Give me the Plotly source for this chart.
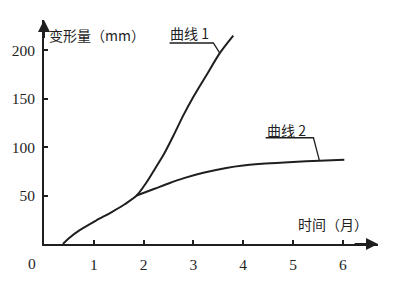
import plotly.graph_objects as go

# ---- data ----
curve1_month = [0.38, 0.5, 0.71, 1.04, 1.36, 1.62, 1.86, 2.05, 2.22, 2.42, 2.6, 2.8, 3.0, 3.27, 3.53, 3.80]
curve1_value = [0, 6, 14, 24, 33, 41, 50, 63, 77, 94, 112, 133, 152, 175, 197, 215]

curve2_month = [1.86, 2.22, 2.5, 2.81, 3.2, 3.66, 4.0, 4.45, 5.0, 5.53, 6.03]
curve2_value = [50, 57, 62.5, 68, 73.5, 78.5, 81, 83, 84.7, 86, 87]

x_ticks = [1, 2, 3, 4, 5, 6]
x_tick_labels = ["1", "2", "3", "4", "5", "6"]
y_ticks = [50, 100, 150, 200]
y_tick_labels = ["50", "100", "150", "200"]

y_title = "变形量（mm）"
x_title = "时间（月）"
curve_names = ["曲线 1", "曲线 2"]
# label text anchors and leader lines (data units)
label_pos = [(2.93, 218), (4.86, 117.5)]
leader1 = [(2.52, 207.5), (3.40, 207.5), (3.53, 197)]
leader2 = [(4.45, 109.7), (5.41, 109.7), (5.53, 86)]

INK = "#1f1f1f"
NUM_FONT = dict(family="Liberation Serif, DejaVu Serif, serif", size=15.5, color=INK)
CJK_FONT = dict(family="Noto Sans CJK SC, sans-serif", size=14, color=INK)

X_MAX = 340 / 50.7
Y_MAX = 234 / 1.012

fig = go.Figure()
fig.add_trace(go.Scatter(x=curve1_month, y=curve1_value, mode="lines",
                         line=dict(color=INK, width=2, shape="spline", smoothing=0.8),
                         hoverinfo="skip", showlegend=False))
fig.add_trace(go.Scatter(x=curve2_month, y=curve2_value, mode="lines",
                         line=dict(color=INK, width=2, shape="spline", smoothing=0.8),
                         hoverinfo="skip", showlegend=False))

for pts in (leader1, leader2):
    path = "M " + " L ".join(f"{px},{py}" for px, py in pts)
    fig.add_shape(type="path", path=path, xref="x", yref="y",
                  line=dict(color=INK, width=1.3))

annotations = []
for (lx, ly), name in zip(label_pos, curve_names):
    annotations.append(dict(x=lx, y=ly, xref="x", yref="y", text=name,
                            showarrow=False, font=CJK_FONT))
annotations.append(dict(x=0, y=216, xref="x", yref="y", text=y_title, xanchor="left",
                        xshift=3, showarrow=False, font=CJK_FONT))
annotations.append(dict(x=5.8, y=20.5, xref="x", yref="y", text=x_title,
                        showarrow=False, font=CJK_FONT))
annotations.append(dict(x=0, y=0, xref="x", yref="y", text="0", xanchor="right",
                        yanchor="top", xshift=-6, yshift=-9, showarrow=False, font=NUM_FONT))
# axis arrowheads
annotations.append(dict(x=X_MAX, y=0, ax=X_MAX - 0.5, ay=0, xref="x", yref="y",
                        axref="x", ayref="y", showarrow=True, arrowhead=2, arrowsize=1.2,
                        arrowwidth=2, arrowcolor=INK, text=""))
annotations.append(dict(x=0, y=Y_MAX, ax=0, ay=Y_MAX - 20, xref="x", yref="y",
                        axref="x", ayref="y", showarrow=True, arrowhead=2, arrowsize=1.2,
                        arrowwidth=2, arrowcolor=INK, text=""))

fig.update_layout(
    width=400, height=285,
    margin=dict(l=38, r=22, t=20, b=31),
    paper_bgcolor="white", plot_bgcolor="white",
    annotations=annotations,
    xaxis=dict(range=[0, X_MAX], showgrid=False, zeroline=False,
               showline=True, linecolor=INK, linewidth=2,
               ticks="inside", ticklen=4, tickwidth=1.5, tickcolor=INK,
               tickvals=x_ticks, ticktext=x_tick_labels, tickfont=NUM_FONT,
               ticklabelstandoff=5, fixedrange=True),
    yaxis=dict(range=[0, Y_MAX], showgrid=False, zeroline=False,
               showline=True, linecolor=INK, linewidth=2,
               ticks="inside", ticklen=4, tickwidth=1.5, tickcolor=INK,
               tickvals=y_ticks, ticktext=y_tick_labels, tickfont=NUM_FONT,
               ticklabelstandoff=4, fixedrange=True),
)

fig.write_html("out.html")
